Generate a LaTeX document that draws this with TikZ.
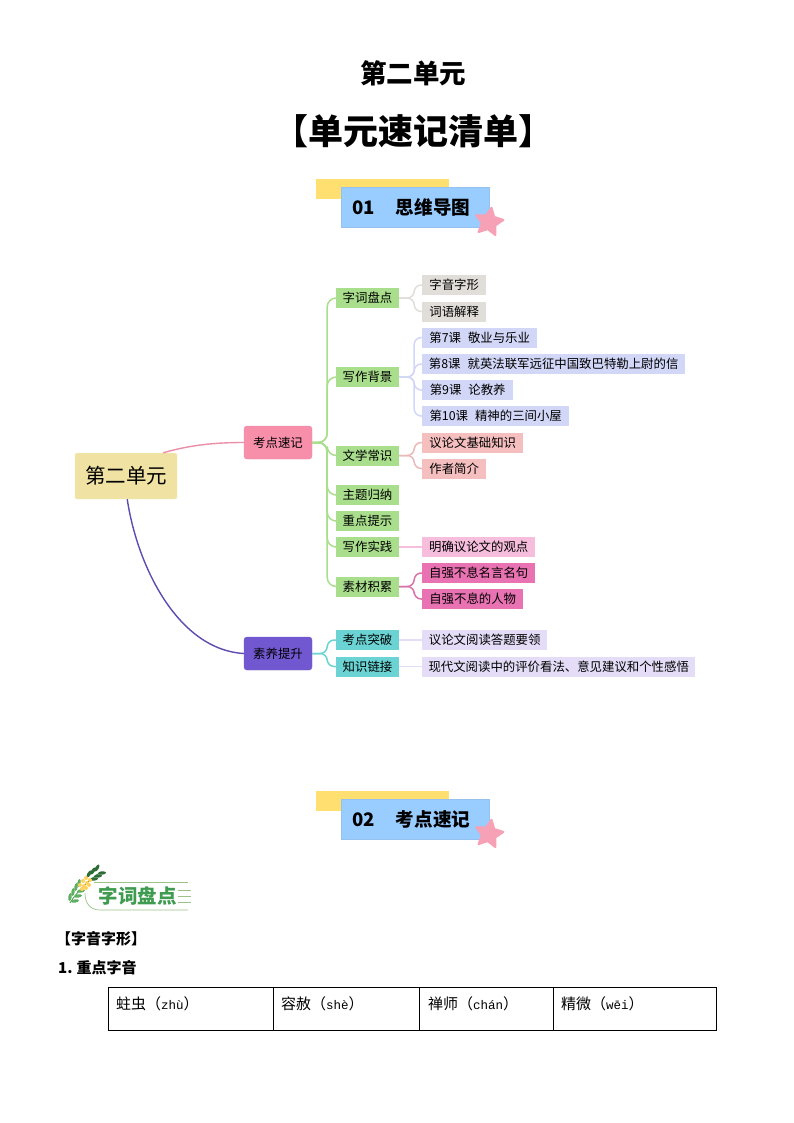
\documentclass[tikz,border=0pt]{standalone}
\usepackage{fontspec}
\setmainfont{Noto Sans CJK SC}
\newfontfamily\pinyinfont{Liberation Mono}
\usetikzlibrary{shapes.geometric,positioning,calc}

\definecolor{rootfill}{HTML}{F0E2A3}
\definecolor{redfill}{HTML}{F78FAB}
\definecolor{purplefill}{HTML}{7158D0}
\definecolor{greenfill}{HTML}{A9DE8C}
\definecolor{tealfill}{HTML}{6BD3D3}
\definecolor{grayfill}{HTML}{E1DDD9}
\definecolor{bluefill}{HTML}{D2D7F7}
\definecolor{salmonfill}{HTML}{F5BFBF}
\definecolor{pinkfill}{HTML}{F6BEDC}
\definecolor{magentafill}{HTML}{E972B2}
\definecolor{lilacfill}{HTML}{E5DDF7}
\definecolor{bannerblue}{HTML}{99CCFF}
\definecolor{banneryellow}{HTML}{FFDF70}
\definecolor{starpink}{HTML}{F7A1B7}
\definecolor{headgreen}{HTML}{3F9B4F}

\tikzset{
  rootbox/.style={rectangle, rounded corners=2pt, fill=rootfill, draw=rootfill!70!white, minimum width=102pt, minimum height=46pt, font=\fontsize{20.5}{24}\selectfont},
  mainbox/.style={rectangle, rounded corners=3pt, minimum width=68pt, minimum height=33pt, font=\fontsize{12.4}{15}\selectfont},
  subbox/.style={rectangle, minimum width=63pt, minimum height=20pt, inner sep=0pt, font=\fontsize{12.4}{15}\selectfont},
  leafbox/.style={rectangle, anchor=west, minimum height=20pt, inner sep=0pt, font=\fontsize{12.4}{15}\selectfont},
  branch/.style={line width=1.5pt, rounded corners=7pt},
  bannerback/.style={rectangle, fill=banneryellow, anchor=north west, minimum width=133pt, minimum height=20pt},
  bannerfront/.style={rectangle, fill=bannerblue, draw=bannerblue!85!gray, anchor=north west, minimum width=148pt, minimum height=40pt},
  bannertext/.style={anchor=west, inner sep=0pt, font=\fontsize{18.6}{22}\selectfont\bfseries},
  bannerstar/.style={star, star points=5, star point ratio=2, fill=starpink, draw=starpink, line join=round, line width=2pt, minimum size=29pt, inner sep=0pt, rotate=-10},
  tablecell/.style={rectangle, draw, line width=0.7pt, outer sep=0pt, anchor=north west, minimum height=43pt},
  celltext/.style={anchor=west, inner sep=0pt, font=\fontsize{15}{18}\selectfont},
  leaflet/.style={ellipse, fill=#1, minimum width=8pt, minimum height=3.4pt, inner sep=0pt},
  flowerdot/.style={circle, fill=#1, minimum size=4pt, inner sep=0pt}
}

\begin{document}
\begin{tikzpicture}[x=1pt, y=-1pt]
    \useasboundingbox (0,0) rectangle (794,1123);

    % titles
    \node[font=\fontsize{26.5}{30}\selectfont\bfseries] (title) at (413,73) {第二单元};
    \node[font=\fontsize{35}{40}\selectfont\bfseries] (subtitle) at (413,131) {【单元速记清单】};

    % first banner
    \node[bannerback] (back1) at (316,179) {};
    \node[bannerfront] (front1) at (341,187) {};
    \node[bannertext] (text1) at (352,207) {01\hspace{21pt}思维导图};
    \node[bannerstar] (star1) at (489,222) {};

    % mind map
    \node[rootbox] (root) at (126,476) {第二单元};
    \node[mainbox, fill=redfill, draw=redfill!85!gray] (kd) at (278,442.5) {考点速记};
    \node[mainbox, fill=purplefill, draw=purplefill!85!gray] (sy) at (278,653.5) {素养提升};

    \node[subbox, fill=greenfill] (zc) at (367.5,298) {字词盘点};
    \node[subbox, fill=greenfill] (xz) at (367.5,377) {写作背景};
    \node[subbox, fill=greenfill] (wx) at (367.5,455.5) {文学常识};
    \node[subbox, fill=greenfill] (zt) at (367.5,495) {主题归纳};
    \node[subbox, fill=greenfill] (zd) at (367.5,521) {重点提示};
    \node[subbox, fill=greenfill] (sj) at (367.5,547) {写作实践};
    \node[subbox, fill=greenfill] (sc) at (367.5,586.5) {素材积累};
    \node[subbox, fill=tealfill] (tp) at (367.5,640) {考点突破};
    \node[subbox, fill=tealfill] (lj) at (367.5,666.5) {知识链接};

    \node[leafbox, fill=grayfill, minimum width=64pt] (l1) at (422,285) {字音字形};
    \node[leafbox, fill=grayfill, minimum width=64pt] (l2) at (422,311.5) {词语解释};
    \node[leafbox, fill=bluefill, minimum width=115pt] (l3) at (422,337.5) {第7课\hspace{7pt}敬业与乐业};
    \node[leafbox, fill=bluefill, minimum width=263pt] (l4) at (422,364) {第8课\hspace{7pt}就英法联军远征中国致巴特勒上尉的信};
    \node[leafbox, fill=bluefill, minimum width=91pt] (l5) at (422,390) {第9课\hspace{7pt}论教养};
    \node[leafbox, fill=bluefill, minimum width=147pt] (l6) at (422,416) {第10课\hspace{7pt}精神的三间小屋};
    \node[leafbox, fill=salmonfill, minimum width=101pt] (l7) at (422,442.5) {议论文基础知识};
    \node[leafbox, fill=salmonfill, minimum width=64pt] (l8) at (422,468.5) {作者简介};
    \node[leafbox, fill=pinkfill, minimum width=113pt] (l9) at (422,547) {明确议论文的观点};
    \node[leafbox, fill=magentafill, minimum width=113pt] (l10) at (422,573) {自强不息名言名句};
    \node[leafbox, fill=magentafill, minimum width=101pt] (l11) at (422,599) {自强不息的人物};
    \node[leafbox, fill=lilacfill, minimum width=125pt] (l12) at (422,640) {议论文阅读答题要领};
    \node[leafbox, fill=lilacfill, minimum width=273pt] (l13) at (422,666.5) {现代文阅读中的评价看法、意见建议和个性感悟};

    \draw[line width=1.4pt, redfill!90!gray] (root.32.6) .. controls (190,445) and (215,442.5) .. (kd.west);
    \draw[line width=1.4pt, purplefill!85!black] (root.-87) .. controls (138,570) and (180,650) .. (sy.west);

    \foreach \child in {zc,xz,wx,zt,zd,sj,sc}
        \draw[branch, rounded corners=9pt, greenfill] (kd.east) -- ++(15,0) |- (\child.west);
    \foreach \child in {tp,lj}
        \draw[branch, tealfill] (sy.east) -- ++(15,0) |- (\child.west);

    \foreach \child in {l1,l2}
        \draw[branch, grayfill] (zc.east) -- ++(15,0) |- (\child.west);
    \foreach \child in {l3,l4,l5,l6}
        \draw[branch, bluefill] (xz.east) -- ++(15,0) |- (\child.west);
    \foreach \child in {l7,l8}
        \draw[branch, salmonfill!90!gray] (wx.east) -- ++(15,0) |- (\child.west);
    \draw[branch, pinkfill] (sj.east) -- (l9.west);
    \foreach \child in {l10,l11}
        \draw[branch, magentafill!85!gray] (sc.east) -- ++(15,0) |- (\child.west);
    \draw[branch, lilacfill] (tp.east) -- (l12.west);
    \draw[branch, lilacfill] (lj.east) -- (l13.west);

    % second banner
    \node[bannerback] (back2) at (316,791) {};
    \node[bannerfront] (front2) at (341,799) {};
    \node[bannertext] (text2) at (352,819) {02\hspace{21pt}考点速记};
    \node[bannerstar] (star2) at (489,834) {};

    % section heading with sprig
    \draw[line width=0.7pt, greenfill!70!gray] (188,882) -- (94,882);
    \draw[line width=0.7pt, greenfill!70!gray] (85,893) .. controls (85,903) and (90,910) .. (100,910) -- (188,910);
    \foreach \y in {890,896,902}
        \draw[line width=0.6pt, greenfill!70!gray] (178,\y) -- (191,\y);
    \node[anchor=west, inner sep=0pt, text=headgreen, font=\fontsize{19.5}{22}\selectfont\bfseries] (head) at (98.5,896) {字词盘点};
    \draw[line width=0.8pt, headgreen] (70,903) .. controls (76,893) and (88,880) .. (101,872);
    \foreach \x/\y in {72/900, 75/895, 78/890, 81/886}
        \node[leaflet=headgreen!70!greenfill, rotate=80] at (\x-2,\y-3) {};
    \foreach \x/\y in {72/900, 75/895, 78/890}
        \node[leaflet=headgreen!70!greenfill, rotate=10] at (\x+3,\y+1) {};
    \foreach \x/\y in {91/877, 95/874, 99/871}
        \node[leaflet=headgreen!70!black, rotate=60] at (\x-2,\y-3) {};
    \foreach \x/\y in {91/877, 95/874, 99/871}
        \node[leaflet=headgreen!70!black, rotate=5] at (\x+3,\y+2) {};
    \foreach \x/\y in {80/885, 83/881, 86/878, 84/886, 87/883, 90/880, 82/889, 86/888, 89/885}
        \node[flowerdot=banneryellow!85!orange] at (\x,\y) {};

    \node[anchor=west, inner sep=0pt, font=\fontsize{15}{18}\selectfont\bfseries] (zy) at (56,939) {【字音字形】};
    \node[anchor=west, inner sep=0pt, font=\fontsize{15}{18}\selectfont\bfseries] (zdzy) at (58,968) {\textit{1}.\hspace{4pt}重点字音};

    % table
    \node[tablecell, minimum width=165pt] (c1) at (108,987) {};
    \node[tablecell, minimum width=146pt] (c2) at (c1.north east) {};
    \node[tablecell, minimum width=134pt] (c3) at (c2.north east) {};
    \node[tablecell, minimum width=163pt] (c4) at (c3.north east) {};
    \node[celltext] (t1) at (116,1004) {蛀虫（{\pinyinfont\fontsize{12.5}{15}\selectfont zhù}）};
    \node[celltext] (t2) at (281,1004) {容赦（{\pinyinfont\fontsize{12.5}{15}\selectfont shè}）};
    \node[celltext] (t3) at (428,1004) {禅师（{\pinyinfont\fontsize{12.5}{15}\selectfont chán}）};
    \node[celltext] (t4) at (561,1004) {精微（{\pinyinfont\fontsize{12.5}{15}\selectfont wēi}）};
\end{tikzpicture}
\end{document}
